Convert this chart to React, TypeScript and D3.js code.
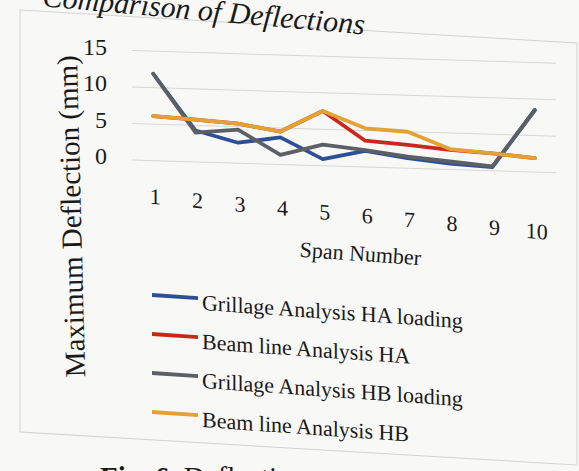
import React, { useRef, useEffect } from "react";
import * as d3 from "d3";

// values (mm)
const spans = [1, 2, 3, 4, 5, 6, 7, 8, 9, 10];
const grillageHA = [11.9, 4.3, 2.8, 3.7, 0.9, 2.2, 1.4, 0.8, 0.5, 8.5];
const beamLineHA = [6.1, 5.8, 5.4, 4.5, 7.5, 3.6, 3.2, 2.7, 2.4, 1.9];
const grillageHB = [11.9, 4.0, 4.6, 1.3, 2.9, 2.3, 1.6, 1.1, 0.6, 8.5];
const beamLineHB = [6.1, 5.8, 5.4, 4.5, 7.5, 5.3, 5.0, 2.8, 2.4, 1.9];
const yTicks = [0, 5, 10, 15];
const seriesNames = [
  "Grillage Analysis HA loading",
  "Beam line Analysis HA",
  "Grillage Analysis HB loading",
  "Beam line Analysis HB",
];
const seriesColors = ["#2c4f97", "#c9271d", "#5d5f66", "#e3a233"];

const width = 579;
const height = 471;
const serif = "'Liberation Serif', 'Times New Roman', serif";

// the reference is a photo of a printed page, so parts are slightly tilted
const skewAt = (x0: number, deg: number) =>
  `translate(${x0},0) skewY(${deg}) translate(${-x0},0)`;

const App = () => {
  const svgRef = useRef<SVGSVGElement>(null);

  useEffect(() => {
    const svg = d3.select(svgRef.current);
    svg.selectAll("*").remove();

    svg
      .append("rect")
      .attr("width", width)
      .attr("height", height)
      .attr("fill", "#f8f8f6");

    // chart frame
    svg
      .append("rect")
      .attr("x", 20)
      .attr("y", 10)
      .attr("width", 557)
      .attr("height", 422)
      .attr("transform", skewAt(20, 3.4))
      .attr("fill", "none")
      .attr("stroke", "#d2d2d0")
      .attr("stroke-width", 1);

    const x = d3.scalePoint<number>().domain(spans).range([132, 556]).padding(0.5);
    const y = d3.scaleLinear().domain([0, 15]).range([160, 50.5]);

    const plot = svg.append("g").attr("transform", skewAt(133, 1.72));

    // gridlines
    plot
      .append("g")
      .selectAll("line")
      .data(yTicks)
      .enter()
      .append("line")
      .attr("x1", 132)
      .attr("x2", 556)
      .attr("y1", (d) => y(d))
      .attr("y2", (d) => y(d))
      .attr("stroke", "#d6d6d4")
      .attr("stroke-width", 1);

    const allSeries = [grillageHA, beamLineHA, grillageHB, beamLineHB];
    const line = d3
      .line<number>()
      .x((d, i) => x(spans[i]) as number)
      .y((d) => y(d));

    plot
      .append("g")
      .selectAll("path")
      .data(allSeries)
      .enter()
      .append("path")
      .attr("d", (d) => line(d))
      .attr("fill", "none")
      .attr("stroke", (d, i) => seriesColors[i])
      .attr("stroke-width", 3.8)
      .attr("stroke-linejoin", "round")
      .attr("stroke-linecap", "round");

    // y tick labels
    svg
      .append("g")
      .selectAll("text")
      .data(yTicks)
      .enter()
      .append("text")
      .attr("x", 107)
      .attr("y", (d) => y(d) + 4)
      .attr("text-anchor", "end")
      .style("font", `24px ${serif}`)
      .attr("fill", "#1a1a1a")
      .text((d) => d);

    // x tick labels
    svg
      .append("g")
      .attr("transform", skewAt(155, 5.2))
      .selectAll("text")
      .data(spans)
      .enter()
      .append("text")
      .attr("x", (d) => (x(d) as number) + 2)
      .attr("y", 204)
      .attr("text-anchor", "middle")
      .style("font", `22px ${serif}`)
      .attr("fill", "#1a1a1a")
      .text((d) => d);

    svg
      .append("text")
      .attr("x", 360)
      .attr("y", 261)
      .attr("transform", "rotate(4, 360, 261)")
      .attr("text-anchor", "middle")
      .style("font", `22px ${serif}`)
      .attr("fill", "#1a1a1a")
      .text("Span Number");

    svg
      .append("text")
      .attr("x", 81)
      .attr("y", 216)
      .attr("transform", "rotate(-91.5, 81, 216)")
      .attr("text-anchor", "middle")
      .style("font", `29px ${serif}`)
      .attr("fill", "#1a1a1a")
      .text("Maximum Deflection (mm)");

    // title, partly cut off by the top of the photo
    svg
      .append("text")
      .attr("x", 203)
      .attr("y", 22)
      .attr("transform", "rotate(5, 222, 22)")
      .attr("text-anchor", "middle")
      .style("font", `italic 30px ${serif}`)
      .attr("fill", "#1a1a1a")
      .text("Comparison of Deflections");

    // legend
    const legend = svg
      .append("g")
      .attr("transform", "translate(152,295) skewY(4)")
      .selectAll("g")
      .data(seriesNames)
      .enter()
      .append("g")
      .attr("transform", (d, i) => `translate(0, ${i * 39})`);

    legend
      .append("line")
      .attr("x1", 0)
      .attr("x2", 46)
      .attr("stroke", (d, i) => seriesColors[i])
      .attr("stroke-width", 3.8);

    legend
      .append("text")
      .attr("x", 50)
      .attr("y", 11.5)
      .style("font", `22px ${serif}`)
      .attr("fill", "#1a1a1a")
      .text((d) => d);

    // caption below the chart, mostly outside the photo
    const caption = svg
      .append("text")
      .attr("x", 100)
      .attr("y", 487)
      .style("font", `29px ${serif}`)
      .attr("fill", "#1a1a1a");
    caption.append("tspan").style("font-weight", "bold").text("Fig. 6.");
    caption.append("tspan").text(" Deflections");
  }, []);

  return (
    <svg
      ref={svgRef}
      width={width}
      height={height}
      style={{ position: "absolute", left: 0, top: 0, display: "block" }}
    ></svg>
  );
};

export default App;
